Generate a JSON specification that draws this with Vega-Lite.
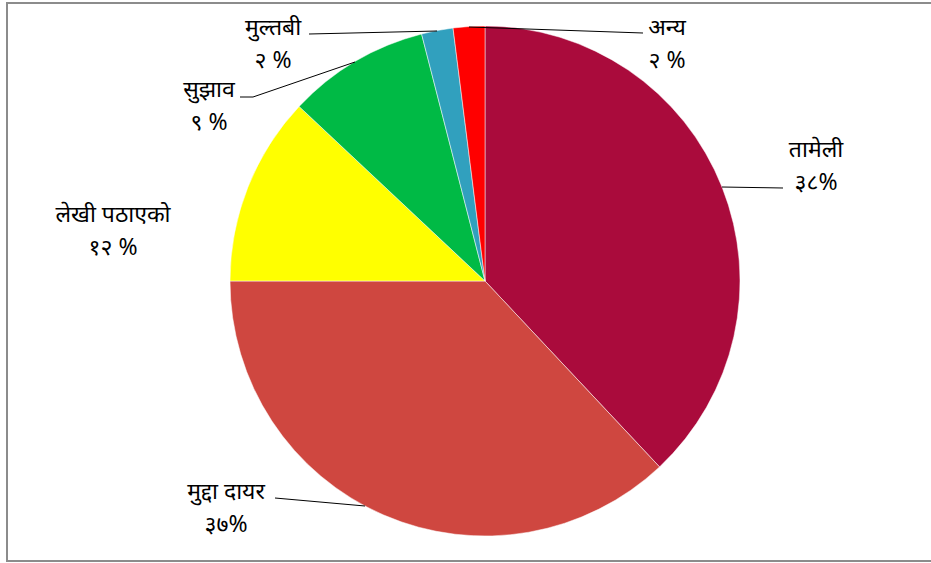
{
  "$schema": "https://vega.github.io/schema/vega-lite/v6.json",
  "width": 931,
  "height": 563,
  "autosize": {"type": "fit", "contains": "padding"},
  "padding": 0,
  "background": "white",
  "config": {"view": {"stroke": null}},
  "datasets": {
    "slices": [
      {"cat": "तामेली", "pct": 38, "o": 1},
      {"cat": "मुद्दा दायर", "pct": 37, "o": 2},
      {"cat": "लेखी पठाएको", "pct": 12, "o": 3},
      {"cat": "सुझाव", "pct": 9, "o": 4},
      {"cat": "मुल्तबी", "pct": 2, "o": 5},
      {"cat": "अन्य", "pct": 2, "o": 6}
    ],
    "labels": [
      {"t": "मुल्तबी\n२ %", "x": -212, "y": 253},
      {"t": "अन्य\n२ %", "x": 182, "y": 253},
      {"t": "सुझाव\n९ %", "x": -276, "y": 191},
      {"t": "लेखी पठाएको\n१२ %", "x": -372, "y": 66},
      {"t": "तामेली\n३८%", "x": 331, "y": 131},
      {"t": "मुद्दा दायर\n३७%", "x": -259, "y": -211}
    ],
    "leaders": [
      {"x": -176, "y": 247, "x2": -48, "y2": 250},
      {"x": 158, "y": 248, "x2": -16, "y2": 254},
      {"x": -245, "y": 184, "x2": -232, "y2": 184},
      {"x": -232, "y": 184, "x2": -130, "y2": 219},
      {"x": 298, "y": 93, "x2": 237, "y2": 94},
      {"x": -210, "y": -217, "x2": -120, "y2": -225}
    ],
    "frame": [{"x": -478, "x2": 470, "y": 278, "y2": -280}]
  },
  "layer": [
    {
      "data": {"name": "slices"},
      "mark": {"type": "arc", "outerRadius": 255, "stroke": "white", "strokeWidth": 0.5},
      "encoding": {
        "x": {"datum": 0, "type": "quantitative", "scale": {"domain": [-485, 446], "nice": false, "zero": false}, "axis": null},
        "y": {"datum": 0, "type": "quantitative", "scale": {"domain": [-282, 281], "nice": false, "zero": false}, "axis": null},
        "theta": {"field": "pct", "type": "quantitative", "stack": true},
        "order": {"field": "o"},
        "color": {
          "field": "cat",
          "type": "nominal",
          "legend": null,
          "scale": {
            "domain": ["तामेली", "मुद्दा दायर", "लेखी पठाएको", "सुझाव", "मुल्तबी", "अन्य"],
            "range": ["#AA0B3C", "#CF4740", "#FFFF00", "#00BA45", "#31A0BE", "#FF0000"]
          }
        }
      }
    },
    {
      "data": {"name": "leaders"},
      "mark": {"type": "rule", "color": "#000000", "strokeWidth": 1},
      "encoding": {
        "x": {"field": "x", "type": "quantitative"},
        "y": {"field": "y", "type": "quantitative"},
        "x2": {"field": "x2"},
        "y2": {"field": "y2"}
      }
    },
    {
      "data": {"name": "labels"},
      "mark": {"type": "text", "font": "Noto Sans, sans-serif", "fontSize": 23, "lineBreak": "\n", "lineHeight": 33, "align": "center", "baseline": "middle", "color": "#000000"},
      "encoding": {
        "x": {"field": "x", "type": "quantitative"},
        "y": {"field": "y", "type": "quantitative"},
        "text": {"field": "t"}
      }
    },
    {
      "data": {"name": "frame"},
      "mark": {"type": "rect", "filled": false, "clip": true, "stroke": "#8c8c8c", "strokeWidth": 2},
      "encoding": {
        "x": {"field": "x", "type": "quantitative"},
        "x2": {"field": "x2"},
        "y": {"field": "y", "type": "quantitative"},
        "y2": {"field": "y2"}
      }
    }
  ]
}
